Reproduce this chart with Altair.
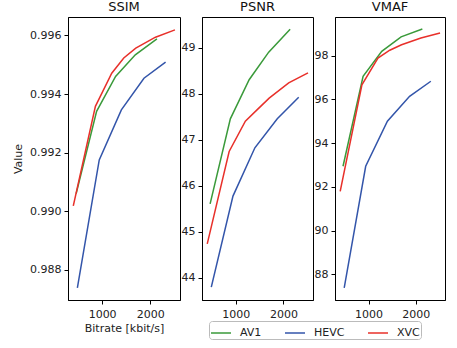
import altair as alt
import pandas as pd

codecs = ["AV1", "HEVC", "XVC"]
colors = ["#3a9a3a", "#3355aa", "#e8302a"]
metrics = ["SSIM", "PSNR", "VMAF"]

bitrate_av1 = [460, 885, 1280, 1690, 2140]
bitrate_hevc = [485, 940, 1400, 1870, 2320]
bitrate_xvc = [400, 860, 1200, 1450, 1700, 2110, 2515]

ssim_av1 = [0.99060, 0.99341, 0.99460, 0.99534, 0.99588]
ssim_hevc = [0.98738, 0.99175, 0.99346, 0.99454, 0.99509]
ssim_xvc = [0.99018, 0.99358, 0.99471, 0.99523, 0.99557, 0.99594, 0.99619]

psnr_av1 = [45.61, 47.46, 48.31, 48.91, 49.41]
psnr_hevc = [43.80, 45.78, 46.83, 47.46, 47.93]
psnr_xvc = [44.74, 46.75, 47.41, 47.66, 47.91, 48.24, 48.46]

vmaf_av1 = [92.94, 97.06, 98.20, 98.86, 99.22]
vmaf_hevc = [87.37, 92.94, 95.00, 96.14, 96.83]
vmaf_xvc = [91.79, 96.67, 97.89, 98.25, 98.50, 98.81, 99.04]

x_ticks = [1000, 2000]
ssim_ticks = [0.988, 0.990, 0.992, 0.994, 0.996]
psnr_ticks = [44, 45, 46, 47, 48, 49]
vmaf_ticks = [88, 90, 92, 94, 96, 98]

bitrates = {"AV1": bitrate_av1, "HEVC": bitrate_hevc, "XVC": bitrate_xvc}
values = {
    "SSIM": {"AV1": ssim_av1, "HEVC": ssim_hevc, "XVC": ssim_xvc},
    "PSNR": {"AV1": psnr_av1, "HEVC": psnr_hevc, "XVC": psnr_xvc},
    "VMAF": {"AV1": vmaf_av1, "HEVC": vmaf_hevc, "XVC": vmaf_xvc},
}

rows = []
for m in metrics:
    for c in codecs:
        for b, v in zip(bitrates[c], values[m][c]):
            rows.append({"metric": m, "codec": c, "bitrate": b, "value": v})
df = pd.DataFrame(rows)

FONT = "DejaVu Sans"
xdom = [290, 2620]
ydoms = {"SSIM": [0.98697, 0.99663], "PSNR": [43.52, 49.674], "VMAF": [86.82, 99.77]}
yticks = {"SSIM": ssim_ticks, "PSNR": psnr_ticks, "VMAF": vmaf_ticks}
yfmt = {"SSIM": ".3f", "PSNR": "d", "VMAF": "d"}
widths = {"SSIM": 112, "PSNR": 111, "VMAF": 110}

legend = alt.Legend(
    orient="none", legendX=141, legendY=304, direction="horizontal",
    title=None, symbolType="stroke", symbolSize=400, symbolStrokeWidth=1.5,
    labelFontSize=11, labelFont=FONT, labelColor="#222222",
    strokeColor="#bbbbbb", fillColor="white", padding=1, cornerRadius=3,
    columnPadding=20, labelOffset=8,
)


def panel(m, first):
    xaxis = alt.Axis(values=x_ticks, format="d", title="Bitrate [kbit/s]" if first else None,
                     tickSize=4, labelPadding=4, titlePadding=3)
    yaxis = alt.Axis(values=yticks[m], format=yfmt[m], title="Value" if first else None,
                     tickSize=4, labelPadding=3, titlePadding=6)
    return alt.Chart(df[df.metric == m]).mark_line(strokeWidth=1.5, clip=True).encode(
        x=alt.X("bitrate:Q", scale=alt.Scale(domain=xdom, nice=False, zero=False), axis=xaxis),
        y=alt.Y("value:Q", scale=alt.Scale(domain=ydoms[m], nice=False, zero=False), axis=yaxis),
        color=alt.Color("codec:N", scale=alt.Scale(domain=codecs, range=colors), legend=legend),
    ).properties(
        width=widths[m], height=283,
        title=alt.TitleParams(m, fontSize=13, font=FONT, fontWeight="normal", offset=3, color="#111111"),
    )


chart = alt.hconcat(
    panel("SSIM", True), panel("PSNR", False), panel("VMAF", False),
    spacing=22, bounds="flush",
).properties(padding={"left": 12, "top": 0, "right": 5, "bottom": 5}).configure_view(
    stroke="black", strokeWidth=1
).configure_axis(
    labelFont=FONT, titleFont=FONT, labelFontSize=11, titleFontSize=11,
    domainColor="black", tickColor="black", labelColor="#222222", titleColor="#222222",
    grid=False, titleFontWeight="normal",
).configure_title(fontWeight="normal", font=FONT)

chart.save("out.html", embed_options={"renderer": "svg", "actions": False})
